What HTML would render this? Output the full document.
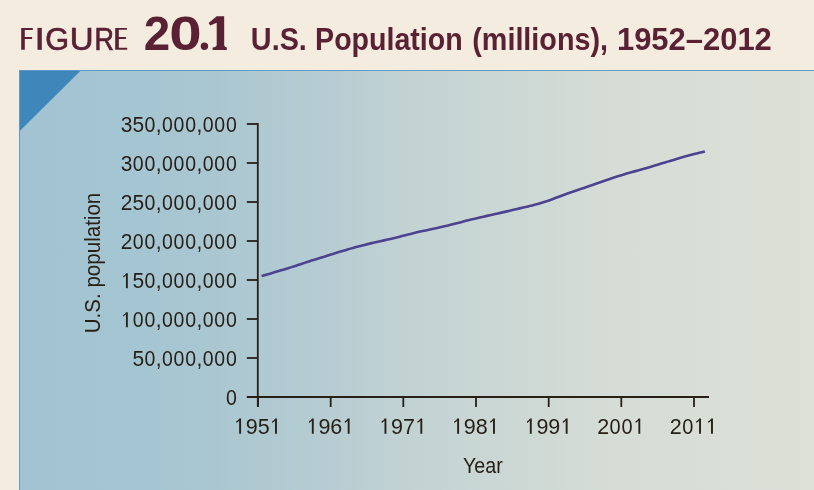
<!DOCTYPE html>
<html>
<head>
<meta charset="utf-8">
<style>
html,body{margin:0;padding:0;}
body{width:814px;height:490px;overflow:hidden;background:#f4eddf;position:relative;font-family:"Liberation Sans",sans-serif;}
svg{position:absolute;left:0;top:0;display:block;will-change:transform;}
</style>
</head>
<body>
<svg width="814" height="490" viewBox="0 0 814 490" font-family="Liberation Sans, sans-serif">
  <defs>
    <linearGradient id="bg" x1="19" y1="0" x2="814" y2="0" gradientUnits="userSpaceOnUse">
      <stop offset="0" stop-color="#a2c3d1"/>
      <stop offset="0.15" stop-color="#a4c5d2"/>
      <stop offset="0.25" stop-color="#aac7d1"/>
      <stop offset="0.38" stop-color="#b6ccd2"/>
      <stop offset="0.5" stop-color="#c3d3d3"/>
      <stop offset="0.75" stop-color="#d6ddd6"/>
      <stop offset="1" stop-color="#dce0d7"/>
    </linearGradient>
  </defs>
  <g fill="#5a2034">
    <path d="M21.2,27.9 H32.8 V30 H24.8 V37 H32.1 V39.1 H24.8 V49.8 H21.2 Z"/>
    <path d="M37.5,27.9 H41.8 V49.8 H37.5 Z"/>
    <path d="M115.2,27.9 H126.9 V29.8 H118.8 V37.1 H125.9 V39.1 H118.8 V47.7 H127.2 V49.8 H115.2 Z"/>
    <text transform="translate(45.21,49.60) scale(0.988,1)" font-size="31.0" font-weight="normal" stroke="#5a2034" stroke-width="0.7">G</text>
    <text transform="translate(69.74,49.60) scale(1.063,1)" font-size="31.0" font-weight="normal" stroke="#5a2034" stroke-width="0.7">U</text>
    <text transform="translate(94.45,49.60) scale(0.869,1)" font-size="31.0" font-weight="normal" stroke="#5a2034" stroke-width="0.7">R</text>
    <text transform="translate(143.87,50.00) scale(0.995,1)" font-size="47.8" font-weight="bold">2</text>
    <text transform="translate(169.17,50.00) scale(1.220,1)" font-size="47.8" font-weight="bold">0</text>
    <text transform="translate(250.87,49.70) scale(0.900,1)" font-size="32" font-weight="bold">U.S.</text>
    <text transform="translate(315.10,49.70) scale(0.893,1)" font-size="32" font-weight="bold">Population</text>
    <text transform="translate(472.26,49.70) scale(0.899,1)" font-size="32" font-weight="bold">(millions),</text>
    <text transform="translate(616.94,49.70) scale(0.967,1)" font-size="32" font-weight="bold">1952–2012</text>
    <circle cx="204.4" cy="46.2" r="3.7"/>
    <path d="M216.7,16.3 L224.2,16.3 L224.2,45.3 Q224.6,47.1 226.8,47.5 L226.8,50 L212.6,50 L212.6,47.5 Q216.3,47.1 216.7,45.3 L216.7,22.8 L210.2,25.6 L208.6,22.9 Z"/>
  </g>
  <rect x="19" y="70" width="795" height="420" fill="url(#bg)"/>
  <rect x="19" y="70" width="795" height="1" fill="#629bc5"/>
  <rect x="19" y="70" width="1" height="420" fill="#629bc5"/>
  <polygon points="20,71 80.3,71 20,130.8" fill="#3f86ba"/>
  <g stroke="#282017" stroke-width="1.8" fill="none">
    <line x1="257.8" y1="123.1" x2="257.8" y2="407"/>
    <line x1="246.8" y1="397" x2="709" y2="397"/>
    <line x1="246.8" y1="124" x2="258" y2="124"/>
    <line x1="246.8" y1="163" x2="258" y2="163"/>
    <line x1="246.8" y1="202" x2="258" y2="202"/>
    <line x1="246.8" y1="241" x2="258" y2="241"/>
    <line x1="246.8" y1="280" x2="258" y2="280"/>
    <line x1="246.8" y1="319" x2="258" y2="319"/>
    <line x1="246.8" y1="358" x2="258" y2="358"/>
    <line x1="258.0" y1="397" x2="258.0" y2="407"/>
    <line x1="330.7" y1="397" x2="330.7" y2="407"/>
    <line x1="403.3" y1="397" x2="403.3" y2="407"/>
    <line x1="476.0" y1="397" x2="476.0" y2="407"/>
    <line x1="548.7" y1="397" x2="548.7" y2="407"/>
    <line x1="621.3" y1="397" x2="621.3" y2="407"/>
    <line x1="694.0" y1="397" x2="694.0" y2="407"/>
  </g>
  <g font-size="21.2" fill="#282017">
    <g transform="translate(237.2,132.2) scale(0.988,1)"><text x="-117.89" y="0">3</text><text x="-106.10" y="0">5</text><text transform="translate(-93.90,0) scale(0.93,1)">0</text><text x="-82.52" y="0">,</text><text transform="translate(-76.22,0) scale(0.93,1)">0</text><text transform="translate(-64.43,0) scale(0.93,1)">0</text><text transform="translate(-52.64,0) scale(0.93,1)">0</text><text x="-41.26" y="0">,</text><text transform="translate(-34.96,0) scale(0.93,1)">0</text><text transform="translate(-23.17,0) scale(0.93,1)">0</text><text transform="translate(-11.38,0) scale(0.93,1)">0</text></g>
    <g transform="translate(237.2,171.2) scale(0.988,1)"><text x="-117.89" y="0">3</text><text transform="translate(-105.69,0) scale(0.93,1)">0</text><text transform="translate(-93.90,0) scale(0.93,1)">0</text><text x="-82.52" y="0">,</text><text transform="translate(-76.22,0) scale(0.93,1)">0</text><text transform="translate(-64.43,0) scale(0.93,1)">0</text><text transform="translate(-52.64,0) scale(0.93,1)">0</text><text x="-41.26" y="0">,</text><text transform="translate(-34.96,0) scale(0.93,1)">0</text><text transform="translate(-23.17,0) scale(0.93,1)">0</text><text transform="translate(-11.38,0) scale(0.93,1)">0</text></g>
    <g transform="translate(237.2,210.2) scale(0.988,1)"><text x="-117.89" y="0">2</text><text x="-106.10" y="0">5</text><text transform="translate(-93.90,0) scale(0.93,1)">0</text><text x="-82.52" y="0">,</text><text transform="translate(-76.22,0) scale(0.93,1)">0</text><text transform="translate(-64.43,0) scale(0.93,1)">0</text><text transform="translate(-52.64,0) scale(0.93,1)">0</text><text x="-41.26" y="0">,</text><text transform="translate(-34.96,0) scale(0.93,1)">0</text><text transform="translate(-23.17,0) scale(0.93,1)">0</text><text transform="translate(-11.38,0) scale(0.93,1)">0</text></g>
    <g transform="translate(237.2,249.2) scale(0.988,1)"><text x="-117.89" y="0">2</text><text transform="translate(-105.69,0) scale(0.93,1)">0</text><text transform="translate(-93.90,0) scale(0.93,1)">0</text><text x="-82.52" y="0">,</text><text transform="translate(-76.22,0) scale(0.93,1)">0</text><text transform="translate(-64.43,0) scale(0.93,1)">0</text><text transform="translate(-52.64,0) scale(0.93,1)">0</text><text x="-41.26" y="0">,</text><text transform="translate(-34.96,0) scale(0.93,1)">0</text><text transform="translate(-23.17,0) scale(0.93,1)">0</text><text transform="translate(-11.38,0) scale(0.93,1)">0</text></g>
    <g transform="translate(237.2,288.2) scale(0.988,1)"><path transform="translate(-117.89,0) scale(21.2)" d="M0.338,0 L0.250,0 L0.250,-0.605 Q0.195,-0.530 0.118,-0.500 L0.118,-0.580 Q0.210,-0.618 0.258,-0.709 L0.338,-0.709 Z"/><text x="-106.10" y="0">5</text><text transform="translate(-93.90,0) scale(0.93,1)">0</text><text x="-82.52" y="0">,</text><text transform="translate(-76.22,0) scale(0.93,1)">0</text><text transform="translate(-64.43,0) scale(0.93,1)">0</text><text transform="translate(-52.64,0) scale(0.93,1)">0</text><text x="-41.26" y="0">,</text><text transform="translate(-34.96,0) scale(0.93,1)">0</text><text transform="translate(-23.17,0) scale(0.93,1)">0</text><text transform="translate(-11.38,0) scale(0.93,1)">0</text></g>
    <g transform="translate(237.2,327.2) scale(0.988,1)"><path transform="translate(-117.89,0) scale(21.2)" d="M0.338,0 L0.250,0 L0.250,-0.605 Q0.195,-0.530 0.118,-0.500 L0.118,-0.580 Q0.210,-0.618 0.258,-0.709 L0.338,-0.709 Z"/><text transform="translate(-105.69,0) scale(0.93,1)">0</text><text transform="translate(-93.90,0) scale(0.93,1)">0</text><text x="-82.52" y="0">,</text><text transform="translate(-76.22,0) scale(0.93,1)">0</text><text transform="translate(-64.43,0) scale(0.93,1)">0</text><text transform="translate(-52.64,0) scale(0.93,1)">0</text><text x="-41.26" y="0">,</text><text transform="translate(-34.96,0) scale(0.93,1)">0</text><text transform="translate(-23.17,0) scale(0.93,1)">0</text><text transform="translate(-11.38,0) scale(0.93,1)">0</text></g>
    <g transform="translate(237.2,366.2) scale(0.988,1)"><text x="-106.10" y="0">5</text><text transform="translate(-93.90,0) scale(0.93,1)">0</text><text x="-82.52" y="0">,</text><text transform="translate(-76.22,0) scale(0.93,1)">0</text><text transform="translate(-64.43,0) scale(0.93,1)">0</text><text transform="translate(-52.64,0) scale(0.93,1)">0</text><text x="-41.26" y="0">,</text><text transform="translate(-34.96,0) scale(0.93,1)">0</text><text transform="translate(-23.17,0) scale(0.93,1)">0</text><text transform="translate(-11.38,0) scale(0.93,1)">0</text></g>
    <g transform="translate(237.2,405.2) scale(0.988,1)"><text transform="translate(-11.38,0) scale(0.93,1)">0</text></g>
  </g>
  <g font-size="21.2" fill="#282017">
    <g transform="translate(257.70,433.7)" font-size="21.5"><path transform="translate(-23.91,0) scale(21.5)" d="M0.338,0 L0.250,0 L0.250,-0.605 Q0.195,-0.530 0.118,-0.500 L0.118,-0.580 Q0.210,-0.618 0.258,-0.709 L0.338,-0.709 Z"/><text x="-11.96" y="0">9</text><text x="0.00" y="0">5</text><path transform="translate(11.96,0) scale(21.5)" d="M0.338,0 L0.250,0 L0.250,-0.605 Q0.195,-0.530 0.118,-0.500 L0.118,-0.580 Q0.210,-0.618 0.258,-0.709 L0.338,-0.709 Z"/></g>
    <g transform="translate(330.37,433.7)" font-size="21.5"><path transform="translate(-23.91,0) scale(21.5)" d="M0.338,0 L0.250,0 L0.250,-0.605 Q0.195,-0.530 0.118,-0.500 L0.118,-0.580 Q0.210,-0.618 0.258,-0.709 L0.338,-0.709 Z"/><text x="-11.96" y="0">9</text><text x="0.00" y="0">6</text><path transform="translate(11.96,0) scale(21.5)" d="M0.338,0 L0.250,0 L0.250,-0.605 Q0.195,-0.530 0.118,-0.500 L0.118,-0.580 Q0.210,-0.618 0.258,-0.709 L0.338,-0.709 Z"/></g>
    <g transform="translate(403.03,433.7)" font-size="21.5"><path transform="translate(-23.91,0) scale(21.5)" d="M0.338,0 L0.250,0 L0.250,-0.605 Q0.195,-0.530 0.118,-0.500 L0.118,-0.580 Q0.210,-0.618 0.258,-0.709 L0.338,-0.709 Z"/><text x="-11.96" y="0">9</text><text x="0.00" y="0">7</text><path transform="translate(11.96,0) scale(21.5)" d="M0.338,0 L0.250,0 L0.250,-0.605 Q0.195,-0.530 0.118,-0.500 L0.118,-0.580 Q0.210,-0.618 0.258,-0.709 L0.338,-0.709 Z"/></g>
    <g transform="translate(475.70,433.7)" font-size="21.5"><path transform="translate(-23.91,0) scale(21.5)" d="M0.338,0 L0.250,0 L0.250,-0.605 Q0.195,-0.530 0.118,-0.500 L0.118,-0.580 Q0.210,-0.618 0.258,-0.709 L0.338,-0.709 Z"/><text x="-11.96" y="0">9</text><text x="0.00" y="0">8</text><path transform="translate(11.96,0) scale(21.5)" d="M0.338,0 L0.250,0 L0.250,-0.605 Q0.195,-0.530 0.118,-0.500 L0.118,-0.580 Q0.210,-0.618 0.258,-0.709 L0.338,-0.709 Z"/></g>
    <g transform="translate(548.37,433.7)" font-size="21.5"><path transform="translate(-23.91,0) scale(21.5)" d="M0.338,0 L0.250,0 L0.250,-0.605 Q0.195,-0.530 0.118,-0.500 L0.118,-0.580 Q0.210,-0.618 0.258,-0.709 L0.338,-0.709 Z"/><text x="-11.96" y="0">9</text><text x="0.00" y="0">9</text><path transform="translate(11.96,0) scale(21.5)" d="M0.338,0 L0.250,0 L0.250,-0.605 Q0.195,-0.530 0.118,-0.500 L0.118,-0.580 Q0.210,-0.618 0.258,-0.709 L0.338,-0.709 Z"/></g>
    <g transform="translate(621.04,433.7)" font-size="21.5"><text x="-23.91" y="0">2</text><text transform="translate(-11.54,0) scale(0.93,1)">0</text><text transform="translate(0.42,0) scale(0.93,1)">0</text><path transform="translate(11.96,0) scale(21.5)" d="M0.338,0 L0.250,0 L0.250,-0.605 Q0.195,-0.530 0.118,-0.500 L0.118,-0.580 Q0.210,-0.618 0.258,-0.709 L0.338,-0.709 Z"/></g>
    <g transform="translate(693.70,433.7)" font-size="21.5"><text x="-23.91" y="0">2</text><text transform="translate(-11.54,0) scale(0.93,1)">0</text><path transform="translate(0.00,0) scale(21.5)" d="M0.338,0 L0.250,0 L0.250,-0.605 Q0.195,-0.530 0.118,-0.500 L0.118,-0.580 Q0.210,-0.618 0.258,-0.709 L0.338,-0.709 Z"/><path transform="translate(11.96,0) scale(21.5)" d="M0.338,0 L0.250,0 L0.250,-0.605 Q0.195,-0.530 0.118,-0.500 L0.118,-0.580 Q0.210,-0.618 0.258,-0.709 L0.338,-0.709 Z"/></g>
  </g>
  <text transform="translate(482.8,472.9) scale(0.93,1)" font-size="21.2" fill="#282017" text-anchor="middle" stroke="#c9d6d4" stroke-width="0">Year</text>
  <text transform="translate(100.2,263) rotate(-90) scale(0.97,1)" font-size="21.2" fill="#282017" text-anchor="middle" stroke="#a3c4d2" stroke-width="0">U.S. population</text>
  <path fill="none" stroke="#4c4390" stroke-width="2.6" stroke-linejoin="round" d="M261.63,276.03 C262.84,275.68 266.48,274.62 268.90,273.93 C271.32,273.24 273.75,272.59 276.17,271.87 C278.59,271.15 281.01,270.39 283.43,269.64 C285.85,268.89 288.28,268.14 290.70,267.37 C293.12,266.60 295.55,265.83 297.97,265.04 C300.39,264.25 302.81,263.41 305.23,262.63 C307.65,261.85 310.08,261.12 312.50,260.36 C314.92,259.60 317.35,258.81 319.77,258.05 C322.19,257.29 324.61,256.58 327.03,255.82 C329.45,255.06 331.88,254.23 334.30,253.46 C336.72,252.69 339.15,251.94 341.57,251.22 C343.99,250.50 346.41,249.81 348.83,249.11 C351.25,248.41 353.68,247.69 356.10,247.03 C358.52,246.37 360.95,245.75 363.37,245.14 C365.79,244.53 368.21,243.94 370.63,243.37 C373.05,242.80 375.48,242.23 377.90,241.69 C380.32,241.15 382.75,240.64 385.17,240.12 C387.59,239.60 390.01,239.15 392.43,238.58 C394.85,238.01 397.28,237.37 399.70,236.72 C402.12,236.07 404.55,235.31 406.97,234.68 C409.39,234.05 411.81,233.47 414.23,232.92 C416.65,232.36 419.08,231.86 421.50,231.35 C423.92,230.84 426.35,230.36 428.77,229.83 C431.19,229.30 433.61,228.72 436.03,228.17 C438.45,227.62 440.88,227.11 443.30,226.55 C445.72,225.99 448.15,225.41 450.57,224.82 C452.99,224.22 455.41,223.61 457.83,222.98 C460.25,222.35 462.68,221.66 465.10,221.05 C467.52,220.45 469.95,219.93 472.37,219.35 C474.79,218.77 477.21,218.17 479.63,217.59 C482.05,217.01 484.48,216.44 486.90,215.88 C489.32,215.32 491.75,214.75 494.17,214.21 C496.59,213.67 499.01,213.16 501.43,212.62 C503.85,212.08 506.28,211.53 508.70,210.97 C511.12,210.41 513.55,209.81 515.97,209.24 C518.39,208.67 520.81,208.12 523.23,207.55 C525.65,206.98 528.08,206.41 530.50,205.82 C532.92,205.23 535.35,204.67 537.77,204.00 C540.19,203.33 542.61,202.62 545.03,201.81 C547.45,201.00 549.88,200.07 552.30,199.17 C554.72,198.27 557.15,197.31 559.57,196.41 C561.99,195.50 564.41,194.61 566.83,193.74 C569.25,192.88 571.68,192.05 574.10,191.22 C576.52,190.39 578.95,189.57 581.37,188.75 C583.79,187.93 586.21,187.15 588.63,186.32 C591.05,185.49 593.48,184.60 595.90,183.76 C598.32,182.92 600.75,182.09 603.17,181.26 C605.59,180.43 608.01,179.58 610.43,178.76 C612.85,177.94 615.28,177.09 617.70,176.31 C620.12,175.53 622.55,174.82 624.97,174.11 C627.39,173.40 629.81,172.70 632.23,172.03 C634.65,171.36 637.08,170.76 639.50,170.08 C641.92,169.40 644.35,168.68 646.77,167.97 C649.19,167.26 651.61,166.58 654.03,165.85 C656.45,165.12 658.88,164.36 661.30,163.61 C663.72,162.86 666.15,162.12 668.57,161.37 C670.99,160.62 673.41,159.85 675.83,159.13 C678.25,158.41 680.68,157.71 683.10,157.03 C685.52,156.35 687.95,155.66 690.37,155.03 C692.79,154.40 695.21,153.85 697.63,153.26 C700.05,152.67 703.69,151.77 704.90,151.47"/>
</svg>
</body>
</html>
